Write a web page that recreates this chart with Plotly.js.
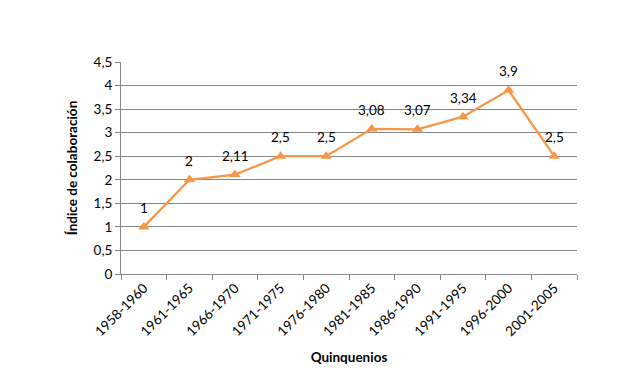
<!DOCTYPE html>
<html>
<head>
<meta charset="utf-8">
<script src="https://cdn.plot.ly/plotly-3.0.1.min.js"></script>
<style>html,body{margin:0;padding:0;background:#fff;}#chart{width:644px;height:388px;}</style>
</head>
<body>
<div id="chart"></div>
<script>
const categories = ["1958-1960","1961-1965","1966-1970","1971-1975","1976-1980","1981-1985","1986-1990","1991-1995","1996-2000","2001-2005"];
const values = [1, 2, 2.11, 2.5, 2.5, 3.08, 3.07, 3.34, 3.9, 2.5];
const yTicks = [0, 0.5, 1, 1.5, 2, 2.5, 3, 3.5, 4, 4.5];

const orange = "#F79646";
const font = "Lato, 'Open Sans', sans-serif";

const trace = {
  x: categories,
  y: values,
  type: "scatter",
  mode: "lines+markers",
  line: {color: orange, width: 2.25},
  marker: {symbol: "triangle-up", size: 10, color: orange},
  hoverinfo: "skip"
};

const annotations = categories.map((c, i) => ({
  x: c, y: values[i], xref: "x", yref: "y",
  text: String(values[i]).replace(".", ","),
  showarrow: false, yshift: 19,
  font: {family: font, size: 13.5, color: "#000"}
}));

const layout = {
  width: 644, height: 388,
  margin: {l: 121, r: 67, t: 62, b: 114},
  paper_bgcolor: "#fff", plot_bgcolor: "#fff",
  separators: ",.",
  showlegend: false,
  font: {family: font, size: 13, color: "#000"},
  xaxis: {
    type: "category",
    range: [-0.5, categories.length - 0.5],
    tickangle: -45,
    tickson: "boundaries",
    ticks: "outside", ticklen: 5, tickcolor: "#868686",
    showline: true, linecolor: "#868686", linewidth: 1,
    showgrid: false, zeroline: false,
    tickfont: {family: font, size: 13.5, color: "#000"},
    title: {text: "<b>Quinquenios</b>", font: {family: font, size: 13.5, color: "#000"}, standoff: 14}
  },
  yaxis: {
    range: [0, 4.5],
    tickvals: yTicks,
    ticks: "outside", ticklen: 5, tickcolor: "#868686",
    showline: true, linecolor: "#868686", linewidth: 1,
    showgrid: true, gridcolor: "#868686", gridwidth: 1,
    zeroline: false,
    tickfont: {family: font, size: 13.5, color: "#000"},
    title: {text: "<b>Índice de colaboración</b>", font: {family: font, size: 13.5, color: "#000"}, standoff: 12}
  },
  annotations: annotations
};

Plotly.newPlot("chart", [trace], layout, {staticPlot: true, displayModeBar: false});
</script>
</body>
</html>
